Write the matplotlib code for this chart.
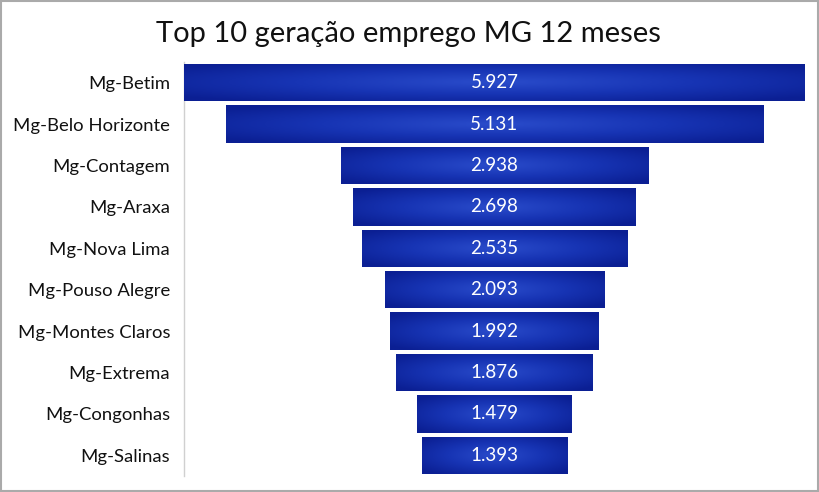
import matplotlib
matplotlib.use("Agg")
import matplotlib.pyplot as plt
import numpy as np
from matplotlib.patches import Rectangle
from matplotlib.colors import LinearSegmentedColormap

categories = ["Mg-Betim", "Mg-Belo Horizonte", "Mg-Contagem", "Mg-Araxa", "Mg-Nova Lima",
              "Mg-Pouso Alegre", "Mg-Montes Claros", "Mg-Extrema", "Mg-Congonhas", "Mg-Salinas"]
values = [5927, 5131, 2938, 2698, 2535, 2093, 1992, 1876, 1479, 1393]
value_labels = ["5.927", "5.131", "2.938", "2.698", "2.535", "2.093", "1.992", "1.876", "1.479", "1.393"]

plt.rcParams['font.family'] = ['Lato', 'DejaVu Sans']

fig = plt.figure(figsize=(8.2, 4.92), dpi=100)
fig.patch.set_facecolor("white")
ax = fig.add_axes([184/820, 1 - 476/492, (805-184)/820, (476-62)/492])

vmax = max(values)
y = np.arange(len(values))
lefts = [(vmax - v) / 2 for v in values]
bars = ax.barh(y, values, left=lefts, height=0.9, color="#1a36b0", edgecolor="none", zorder=2)

# radial gradient inside each bar
cmap = LinearSegmentedColormap.from_list("g", ["#2a4ccb", "#1734b4", "#0b1f93"])
gx = np.linspace(-1, 1, 200)
gy = np.linspace(-1, 1, 50)
GX, GY = np.meshgrid(gx, gy)
R = np.clip(np.sqrt(GX**2 * 0.6 + GY**2 * 0.6), 0, 1)
for b in bars:
    x0, y0, w, h = b.get_x(), b.get_y(), b.get_width(), b.get_height()
    im = ax.imshow(R, cmap=cmap, vmin=0, vmax=1, extent=[x0, x0 + w, y0, y0 + h],
                   aspect="auto", origin="lower", zorder=3, interpolation="bilinear")
    im.set_clip_path(b)

for yi, lab, left, v in zip(y, value_labels, lefts, values):
    ax.text(left + v / 2, yi, lab, ha="center", va="center", color="white", fontsize=13.5, zorder=4)

ax.set_xlim(0, vmax)
ax.set_ylim(len(values) - 0.5, -0.5)
ax.set_yticks(y)
ax.set_yticklabels(categories, fontsize=13.3, color="#111111")
ax.tick_params(axis="y", length=0, pad=10)
ax.set_xticks([])
for s in ["top", "right", "bottom"]:
    ax.spines[s].set_visible(False)
ax.spines["left"].set_color("#d0d0d0")
ax.spines["left"].set_linewidth(1)

fig.text(408/820, 1 - 34/492, "Top 10 geração emprego MG 12 meses", ha="center", va="center",
         fontsize=21, color="#111111")

# outer frame
fig.add_artist(Rectangle((0.001, 0.002), 0.997, 0.996, transform=fig.transFigure,
                         fill=False, edgecolor="#aaaaaa", linewidth=1.5))

fig.savefig("out.png", dpi=100, facecolor="white")
